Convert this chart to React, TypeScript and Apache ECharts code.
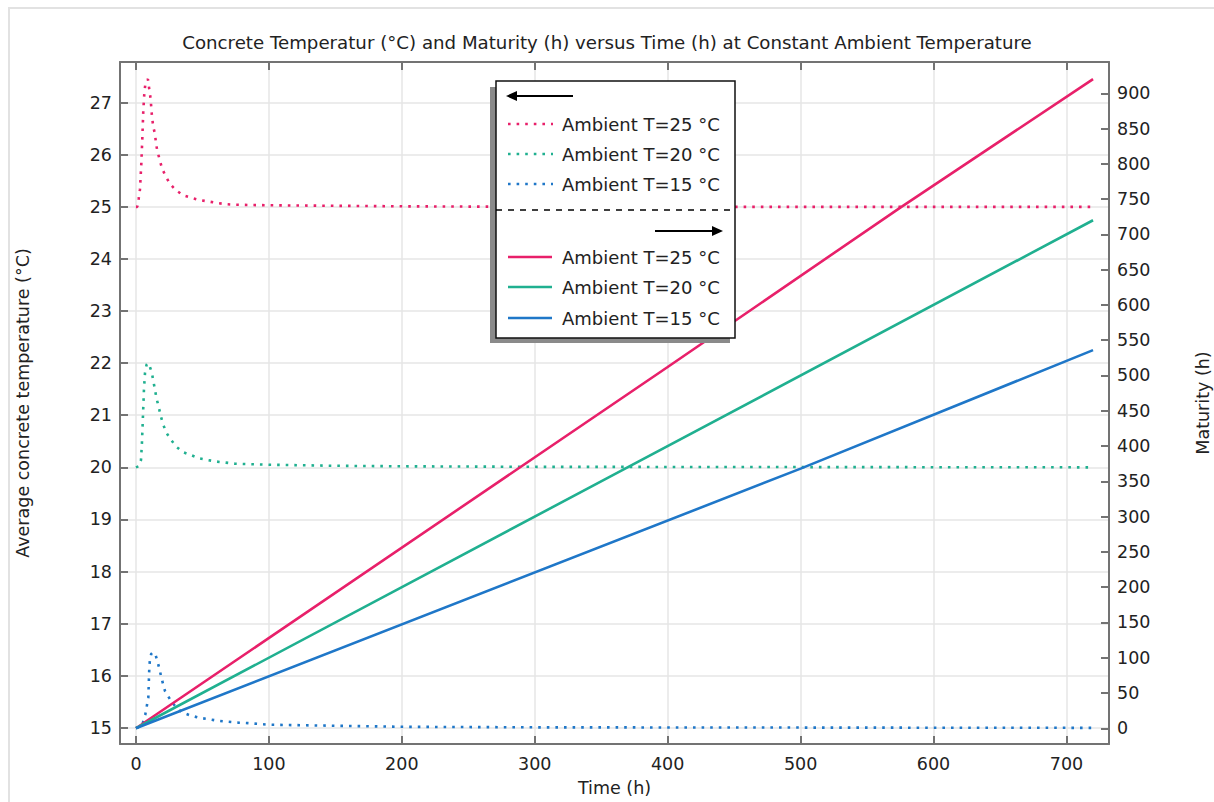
import React, { useEffect, useRef } from "react";
import * as echarts from "echarts";

const seriesNames = ["Ambient T=25 °C", "Ambient T=20 °C", "Ambient T=15 °C"];
const seriesColors = ["#e8206a", "#20b090", "#1f77c8"];

// Average concrete temperature (°C) vs time (h)
const temp25: [number, number][] = [
  [0, 25], [1, 25.0], [2, 25.15], [3, 25.33], [4, 25.81], [4.8, 26.32], [5.5, 26.83], [6.3, 27.18],
  [7, 27.34], [8, 27.42], [9, 27.45], [10, 27.26], [11, 27.08], [12, 26.75], [13, 26.54], [14.3, 26.4],
  [15, 26.24], [16, 26.08], [17.8, 25.91], [19.6, 25.74], [22.3, 25.59], [25.6, 25.44], [30, 25.32],
  [35.6, 25.22], [42, 25.17], [48, 25.13], [55, 25.1], [62, 25.07], [68, 25.05], [75, 25.04],
  [100, 25.03], [150, 25.02], [200, 25.01], [300, 25.0], [720, 25.0],
];
const temp20: [number, number][] = [
  [0, 20], [2, 20.02], [3.8, 20.14], [4.5, 20.47], [5, 20.8], [5.5, 21.14], [6, 21.48], [6.8, 21.81],
  [8, 21.97], [9, 22.0], [10, 21.97], [12, 21.81], [14.3, 21.49], [15.5, 21.32], [17.3, 21.14],
  [18.6, 20.99], [20.5, 20.82], [23, 20.66], [26.3, 20.53], [30.6, 20.39], [35.6, 20.29], [42, 20.23],
  [48, 20.17], [54, 20.14], [61, 20.11], [67.7, 20.09], [74.5, 20.07], [100, 20.05], [150, 20.03],
  [200, 20.02], [300, 20.01], [720, 20.0],
];
const temp15: [number, number][] = [
  [0, 15], [3, 15.02], [5, 15.08], [7, 15.25], [9.3, 15.58], [10, 16.12], [10.5, 16.31], [11.5, 16.42],
  [12.8, 16.45], [14.5, 16.42], [16.3, 16.27], [18, 16.09], [19.8, 15.9], [21.8, 15.71], [26, 15.53],
  [30, 15.4], [34.4, 15.3], [40.6, 15.24], [48, 15.19], [54, 15.17], [60.7, 15.14], [68, 15.12],
  [77, 15.1], [84.5, 15.09], [100, 15.06], [150, 15.04], [200, 15.02], [300, 15.01], [720, 15.0],
];

// Maturity (h) vs time (h)
const mat25: [number, number][] = [[0, 0], [400, 512], [575, 738], [720, 920]];
const mat20: [number, number][] = [[0, 0], [368, 368], [720, 720]];
const mat15: [number, number][] = [[0, 0], [500, 368], [720, 536]];

const xTicks = [0, 100, 200, 300, 400, 500, 600, 700];
const yLeftTicks = [15, 16, 17, 18, 19, 20, 21, 22, 23, 24, 25, 26, 27];
const yRightTicks = [0, 50, 100, 150, 200, 250, 300, 350, 400, 450, 500, 550, 600, 650, 700, 750, 800, 850, 900];

const FONT = '"DejaVu Sans", Verdana, sans-serif';
const AXIS_COLOR = "#737373";
const TEXT_COLOR = "#222";
const DOT: number[] = [2.6, 6];

export default function App() {
  const ref = useRef<HTMLDivElement>(null);

  useEffect(() => {
    if (!ref.current) return;
    const chart = echarts.init(ref.current, undefined, { renderer: "svg" });

    const tempData = [temp25, temp20, temp15];
    const matData = [mat25, mat20, mat15];

    const series: any[] = [];
    tempData.forEach((d, i) => {
      series.push({
        type: "line",
        name: seriesNames[i] + " T",
        xAxisIndex: 0,
        yAxisIndex: 0,
        data: d,
        showSymbol: false,
        lineStyle: { color: seriesColors[i], width: 2.6, type: DOT, cap: "butt" },
        itemStyle: { color: seriesColors[i] },
        z: 3,
      });
    });
    matData.forEach((d, i) => {
      series.push({
        type: "line",
        name: seriesNames[i] + " M",
        xAxisIndex: 0,
        yAxisIndex: 1,
        data: d,
        showSymbol: false,
        lineStyle: { color: seriesColors[i], width: 2.6 },
        itemStyle: { color: seriesColors[i] },
        z: 3,
      });
    });

    const textFont = "18px " + FONT;
    const graphic: any[] = [
      { type: "rect", shape: { x: 490, y: 87, width: 240, height: 256 }, style: { fill: "#8a8a8a" }, z: 100 },
      { type: "rect", shape: { x: 496, y: 81, width: 239, height: 257 }, style: { fill: "#fff", stroke: "#111", lineWidth: 1.5 }, z: 101 },
      { type: "line", shape: { x1: 514, y1: 96, x2: 573, y2: 96 }, style: { stroke: "#000", lineWidth: 2 }, z: 102 },
      { type: "polygon", shape: { points: [[506, 96], [517, 91], [517, 101]] }, style: { fill: "#000" }, z: 102 },
      { type: "line", shape: { x1: 496, y1: 210, x2: 735, y2: 210 }, style: { stroke: "#000", lineWidth: 1.5, lineDash: [6, 6] }, z: 102 },
      { type: "line", shape: { x1: 655, y1: 231, x2: 714, y2: 231 }, style: { stroke: "#000", lineWidth: 2 }, z: 102 },
      { type: "polygon", shape: { points: [[723, 231], [712, 226], [712, 236]] }, style: { fill: "#000" }, z: 102 },
    ];
    const rowsTop = [124, 154, 184];
    const rowsBottom = [257, 287, 318];
    seriesNames.forEach((nm, i) => {
      graphic.push({
        type: "line",
        shape: { x1: 508, y1: rowsTop[i], x2: 553, y2: rowsTop[i] },
        style: { stroke: seriesColors[i], lineWidth: 2.6, lineDash: DOT, lineCap: "butt" },
        z: 102,
      });
      graphic.push({
        type: "text", x: 562, y: rowsTop[i],
        style: { text: nm, fill: TEXT_COLOR, font: textFont, verticalAlign: "middle" }, z: 102,
      });
      graphic.push({
        type: "line",
        shape: { x1: 508, y1: rowsBottom[i], x2: 552, y2: rowsBottom[i] },
        style: { stroke: seriesColors[i], lineWidth: 2.6 },
        z: 102,
      });
      graphic.push({
        type: "text", x: 562, y: rowsBottom[i],
        style: { text: nm, fill: TEXT_COLOR, font: textFont, verticalAlign: "middle" }, z: 102,
      });
    });

    const axisLine = { show: true, onZero: false, lineStyle: { color: AXIS_COLOR, width: 2 } };
    const tickStyle = { color: AXIS_COLOR, width: 2 };
    const labelStyle = { color: TEXT_COLOR, fontFamily: FONT, fontSize: 17.5 };

    chart.setOption({
      animation: false,
      title: {
        text: "Concrete Temperatur (°C) and Maturity (h) versus Time (h) at Constant Ambient Temperature",
        left: "center",
        top: 28,
        textStyle: { color: TEXT_COLOR, fontFamily: FONT, fontSize: 18.2, fontWeight: "normal" },
      },
      grid: { left: 120, right: 105, top: 62, bottom: 58, containLabel: false, outerBoundsMode: "none" },
      xAxis: [
        {
          type: "value",
          position: "bottom",
          min: -12,
          max: 732,
          name: "Time (h)",
          nameLocation: "middle",
          nameGap: 35,
          nameTextStyle: labelStyle,
          axisLine,
          axisTick: { show: true, inside: true, length: 8, lineStyle: tickStyle, customValues: xTicks },
          axisLabel: { ...labelStyle, margin: 11, customValues: xTicks },
          splitLine: { show: true, lineStyle: { color: "#e6e6e6", width: 1.5 } },
        },
        {
          type: "value",
          position: "top",
          min: -12,
          max: 732,
          axisLine,
          axisTick: { show: true, inside: true, length: 8, lineStyle: tickStyle, customValues: xTicks },
          axisLabel: { show: false, customValues: xTicks },
          splitLine: { show: false },
        },
      ],
      yAxis: [
        {
          type: "value",
          position: "left",
          min: 14.69,
          max: 27.78,
          name: "Average concrete temperature (°C)",
          nameLocation: "middle",
          nameRotate: 90,
          nameGap: 88,
          nameTextStyle: labelStyle,
          axisLine,
          axisTick: { show: true, inside: true, length: 8, lineStyle: tickStyle, customValues: yLeftTicks },
          axisLabel: { ...labelStyle, margin: 8, customValues: yLeftTicks },
          splitLine: { show: true, lineStyle: { color: "#e6e6e6", width: 1.5 } },
        },
        {
          type: "value",
          position: "right",
          min: -22.3,
          max: 944.3,
          name: "Maturity (h)",
          nameLocation: "middle",
          nameRotate: 90,
          nameGap: 85,
          nameMoveOverlap: false,
          nameTextStyle: labelStyle,
          axisLine,
          axisTick: { show: true, inside: true, length: 8, lineStyle: tickStyle, customValues: yRightTicks },
          axisLabel: { ...labelStyle, margin: 8, customValues: yRightTicks },
          splitLine: { show: false },
        },
      ],
      series,
      graphic,
    });

    return () => chart.dispose();
  }, []);

  return (
    <div style={{ position: "fixed", left: 0, top: 0, width: 1214, height: 802, background: "#fff" }}>
      <div
        style={{
          position: "absolute", left: 8, top: 7, width: 1214, height: 802,
          borderLeft: "2px solid #e2e2e2", borderTop: "2px solid #e2e2e2",
        }}
      />
      <div ref={ref} style={{ position: "absolute", left: 0, top: 0, width: 1214, height: 802 }} />
    </div>
  );
}
